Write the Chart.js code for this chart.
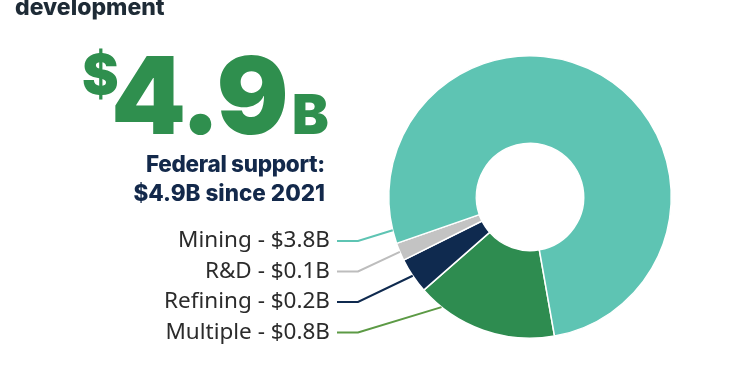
<!DOCTYPE html>
<html>
<head>
<meta charset="utf-8">
<script src="https://cdn.jsdelivr.net/npm/chart.js@4"></script>
<style>
  html, body { margin:0; padding:0; background:#fff; }
  #wrap { position:relative; width:750px; height:375px; overflow:hidden; }
  #wrap canvas { position:absolute; left:0; top:0; }
  .t { position:absolute; font-family:Inter, "DejaVu Sans", sans-serif; white-space:nowrap; line-height:1; }
  .head { left:15px; top:-4px; font-size:23px; font-weight:800; color:#1e2b36; }
  .big { color:#2f8f4e; font-weight:900; }
  .dollar { left:82px; top:47px; font-size:55px; }
  .num { left:111px; top:42px; font-size:107px; letter-spacing:-2px; }
  .bee { left:292px; top:87px; font-size:55px; }
  .sub { right:425px; text-align:right; font-size:22.5px; font-weight:800; color:#13294b; }
</style>
</head>
<body>
<div id="wrap">
  <canvas id="chart" width="750" height="375"></canvas>
  <div class="t head">development</div>
  <div class="t big dollar">$</div>
  <div class="t big num">4.9</div>
  <div class="t big bee">B</div>
  <div class="t sub" style="top:153px; letter-spacing:-0.3px">Federal support:</div>
  <div class="t sub" style="top:182px">$4.9B since 2021</div>
</div>
<script>
// listed top to bottom as in the labels
const categories = ['Mining', 'R&D', 'Refining', 'Multiple'];
const amounts = [3.8, 0.1, 0.2, 0.8]; // $ billions
const sliceColors = ['#5ec4b3', '#c3c3c3', '#0f2a4f', '#2e8c50'];
const lineColors = ['#5ec4b3', '#bdbdbd', '#0f2a4f', '#5c9a45'];
const leaderAt = [0.02, 0.5, 0.5, 0.83]; // where along each slice the leader touches

// slices run clockwise Multiple -> Refining -> R&D -> Mining
const order = [3, 2, 1, 0];

const leaders = {
  id: 'leaders',
  afterDraw(chart) {
    const ctx = chart.ctx;
    const arcs = chart.getDatasetMeta(0).data;
    ctx.save();
    ctx.font = '22.5px "Noto Sans", sans-serif';
    ctx.textAlign = 'right';
    ctx.textBaseline = 'middle';
    order.forEach((src, i) => {
      const arc = arcs[i];
      const y = 241 + src * 30.5;
      const a = arc.startAngle + leaderAt[src] * (arc.endAngle - arc.startAngle);
      const px = arc.x + Math.cos(a) * arc.outerRadius;
      const py = arc.y + Math.sin(a) * arc.outerRadius;
      ctx.fillStyle = '#2b2b2b';
      ctx.fillText(categories[src] + ' - $' + amounts[src].toFixed(1) + 'B', 330, y);
      ctx.strokeStyle = lineColors[src];
      ctx.lineWidth = 2;
      ctx.beginPath();
      ctx.moveTo(337, y);
      ctx.lineTo(358, y);
      ctx.lineTo(px, py);
      ctx.stroke();
    });
    ctx.restore();
  }
};

new Chart(document.getElementById('chart'), {
  type: 'doughnut',
  data: {
    labels: order.map(i => categories[i]),
    datasets: [{
      data: order.map(i => amounts[i]),
      backgroundColor: order.map(i => sliceColors[i]),
      borderColor: '#ffffff',
      borderWidth: 1.5
    }]
  },
  options: {
    responsive: false,
    animation: false,
    rotation: 170,
    cutout: '38%',
    layout: { padding: { left: 388, right: 78, top: 55, bottom: 36 } },
    plugins: { legend: { display: false }, tooltip: { enabled: false } }
  },
  plugins: [leaders]
});
</script>
</body>
</html>
